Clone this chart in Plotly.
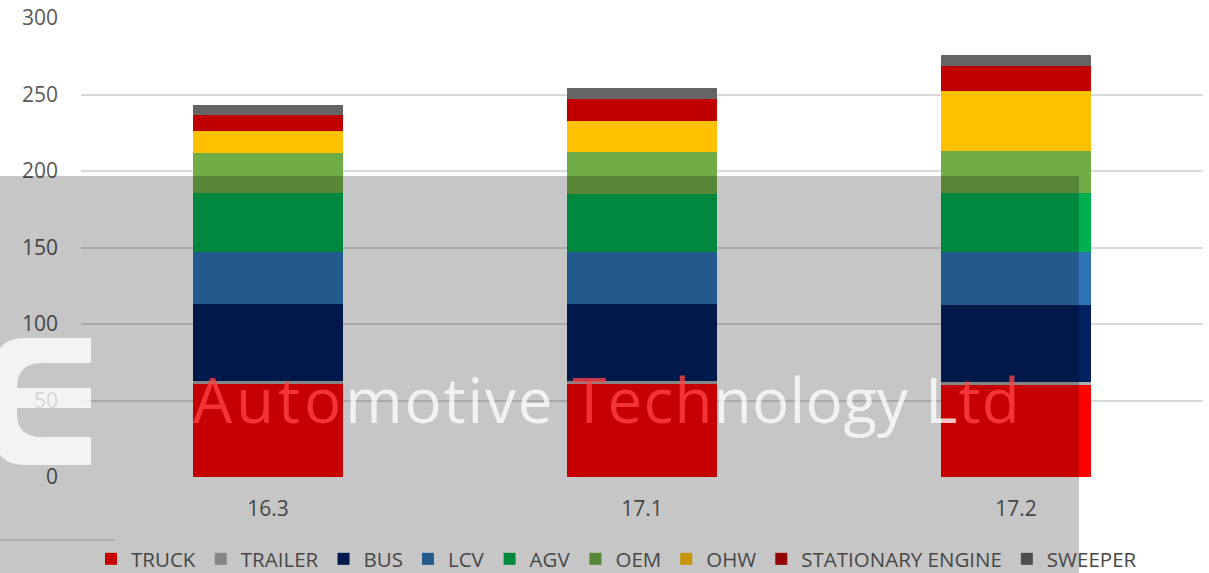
import plotly.graph_objects as go

# ---------------- data ----------------
categories = ["16.3", "17.1", "17.2"]
series_names = ["TRUCK", "TRAILER", "BUS", "LCV", "AGV", "OEM", "OHW",
                "STATIONARY ENGINE", "SWEEPER"]
truck = [60.8, 60.8, 59.9]
trailer = [1.8, 1.8, 2.0]
bus = [50.3, 50.3, 50.7]
lcv = [34.2, 34.2, 34.5]
agv = [38.5, 38.1, 38.7]
oem = [26.2, 27.0, 27.3]
ohw = [14.3, 20.7, 39.0]
stationary_engine = [10.3, 14.0, 16.7]
sweeper = [6.7, 7.3, 7.2]
y_ticks = [0, 50, 100, 150, 200, 250, 300]

series_values = [truck, trailer, bus, lcv, agv, oem, ohw,
                 stationary_engine, sweeper]

# ---------------- styles ----------------
colors = ["#FF0000", "#ADADAD", "#002060", "#2E75B6", "#00B050",
          "#70AD47", "#FFC000", "#C00000", "#656565"]
SHADE = 0.776  # darkening of the grey overlay


def darken(hexcol, f=SHADE):
    h = hexcol.lstrip("#")
    r, g, b = (int(h[i:i + 2], 16) for i in (0, 2, 4))
    return "#%02X%02X%02X" % (round(r * f), round(g * f), round(b * f))


W, H = 1209, 573
ML, MR, MT, MB = 81, 6, 18, 96
PW = W - ML - MR
PH = H - MT - MB


def px(x):
    return (x - ML) / PW


def py(y):
    return (H - MB - y) / PH


FONT = "Open Sans"

fig = go.Figure()

for name, vals, col in zip(series_names, series_values, colors):
    fig.add_trace(go.Bar(
        x=categories, y=vals, name=name,
        marker=dict(color=col, line=dict(width=0)),
        showlegend=False,
    ))

# legend entries (seen through the grey overlay, hence darker swatches)
for name, col in zip(series_names, colors):
    fig.add_trace(go.Bar(
        x=[None], y=[None], name=name,
        marker=dict(color=darken(col), line=dict(width=0)),
        showlegend=True,
    ))

# logo path (pixel -> paper)
logo_pts = [
    ("M", 91, 338), ("L", 25, 338), ("Q", -5, 338, -5, 368), ("L", -5, 435),
    ("Q", -5, 465, 25, 465), ("L", 91, 465), ("L", 91, 437), ("L", 42, 437),
    ("Q", 17, 437, 17, 414), ("L", 17, 408), ("L", 91, 408), ("L", 91, 388),
    ("L", 17, 388), ("Q", 17, 363, 42, 363), ("L", 91, 363),
]
parts = []
for p in logo_pts:
    cmd = p[0]
    coords = p[1:]
    xy = []
    for i in range(0, len(coords), 2):
        xy.append("%.5f,%.5f" % (px(coords[i]), py(coords[i + 1])))
    parts.append(cmd + " " + " ".join(xy))
logo_path = " ".join(parts) + " Z"

shapes = [
    dict(type="line", xref="paper", yref="paper",
         x0=px(0), x1=px(115), y0=py(540), y1=py(540),
         line=dict(color="#D9D9D9", width=1.5), layer="above"),
    dict(type="rect", xref="paper", yref="paper",
         x0=px(-5), x1=px(1079), y0=py(176), y1=py(580),
         fillcolor="black", opacity=0.224, line=dict(width=0), layer="above"),
    dict(type="path", xref="paper", yref="paper", path=logo_path,
         fillcolor="white", opacity=0.78, line=dict(width=0), layer="above"),
]

NB = "\u00a0"
wm_text = (
    '<span style="color:#FF4343;letter-spacing:3.9px">Auto</span>'
    '<span style="letter-spacing:1.8px">motive' + NB + '</span>'
    '<span style="color:#FF4343;letter-spacing:1.2px">Tech</span>'
    '<span style="letter-spacing:0.3px">nology' + NB + '</span>'
    '<span style="letter-spacing:1.2px">L</span>'
    '<span style="color:#FF4343;letter-spacing:1.2px">td</span>'
)

annotations = [
    dict(text=wm_text, xref="paper", yref="paper", x=px(191), y=py(399),
         xanchor="left", yanchor="middle", showarrow=False,
         font=dict(family=FONT, size=62, color="#FFFFFF"), opacity=0.78),
]

fig.update_layout(
    width=W, height=H,
    margin=dict(l=ML, r=MR, t=MT, b=MB, pad=0, autoexpand=False),
    paper_bgcolor="white", plot_bgcolor="white",
    barmode="stack", bargap=0.6,
    font=dict(family=FONT, size=21, color="#595959"),
    xaxis=dict(type="category", showgrid=False, showline=False, ticks="",
               zeroline=False, ticklabelstandoff=17,
               tickfont=dict(family=FONT, size=21, color="#595959")),
    yaxis=dict(range=[0, 300], tickvals=y_ticks, showgrid=True,
               gridcolor="#D9D9D9", gridwidth=1.5, zeroline=False,
               showline=False, ticks="", ticklabelstandoff=22,
               tickfont=dict(family=FONT, size=21, color="#595959")),
    legend=dict(orientation="h", x=px(91), xanchor="left",
                y=py(539), yanchor="top", traceorder="normal",
                bgcolor="rgba(0,0,0,0)",
                font=dict(family=FONT, size=20.5, color="#474747")),
    shapes=shapes,
    annotations=annotations,
    showlegend=True,
)

fig.write_html("out.html",
               config={"displayModeBar": False},
               post_script="document.body.style.margin='0';"
                           "document.body.style.overflow='hidden';")
